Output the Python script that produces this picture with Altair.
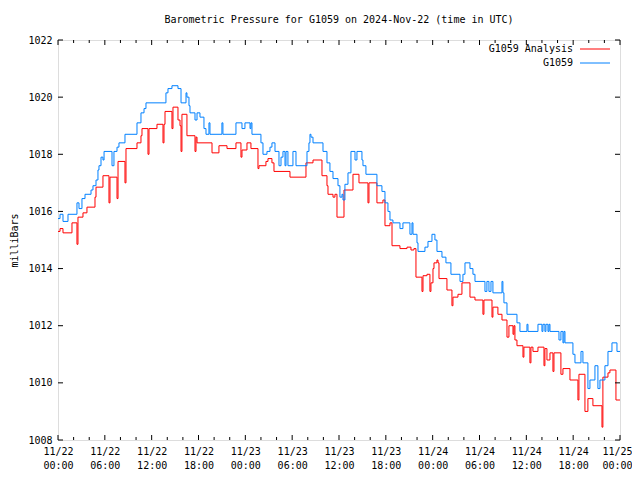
import json
import altair as alt
import pandas as pd

# ---- data (hours after 2024-11-22 00:00 UTC, pressure in millibars) ----
blue_h = [0, 0.26, 0.64, 1.28, 2.43, 2.69, 3.07, 3.46, 4.23, 4.48, 4.87, 5.12, 5.25, 5.51, 5.76, 5.9,
          6.92, 7.17, 7.56, 7.81, 8.58, 10.12, 10.63, 11.02, 11.27, 13.83, 14.09, 14.6, 15.37, 15.76,
          16.4, 16.52, 16.78, 16.91, 17.55, 17.81, 18.19, 18.7, 18.96, 19.34, 19.47, 21.0, 21.13, 22.8,
          23.57, 23.95, 24.6, 24.72, 24.85, 26.0, 26.26, 26.77, 27.16, 27.41, 27.8, 28.31, 28.57, 28.82,
          29.08, 29.21, 29.46, 30.1, 30.49, 31.9, 32.15, 32.28, 32.41, 32.67, 33.95, 34.46, 34.84, 35.23,
          35.87, 36.12, 36.38, 36.51, 36.76, 37.15, 37.53, 38.05, 38.3, 38.94, 39.07, 39.45, 40.86, 41.5,
          41.89, 42.27, 42.53, 42.91, 43.81, 44.19, 45.09, 45.35, 45.48, 45.99, 46.12, 47.01, 47.4, 47.91,
          48.29, 48.55, 49.19, 49.7, 50.34, 51.5, 51.88, 52.14, 52.78, 53.16, 53.42, 54.7, 54.95, 55.21,
          55.47, 55.72, 56.88, 57.0, 57.13, 57.52, 58.8, 59.18, 60.08, 60.21, 61.49, 62.0, 62.13, 62.38,
          62.51, 62.77, 62.9, 63.03, 64.18, 64.43, 64.69, 64.82, 64.95, 65.97, 66.23, 67.0, 67.25, 67.89,
          68.15, 68.79, 69.17, 69.43, 70.07, 70.46, 70.97, 71.61, 72.0]
blue_p = [1015.75, 1015.9, 1015.65, 1015.9, 1016.3, 1016.1, 1016.45, 1016.6, 1016.75, 1016.9, 1017.1,
          1017.45, 1017.6, 1017.9, 1017.8, 1018.1, 1017.6, 1018.1, 1018.25, 1018.4, 1018.7, 1019.1,
          1019.45, 1019.6, 1019.8, 1020.15, 1020.3, 1020.4, 1020.3, 1019.8, 1020.15, 1020.0, 1019.7,
          1019.45, 1019.2, 1019.45, 1019.3, 1018.9, 1018.7, 1019.1, 1018.7, 1019.1, 1018.7, 1019.1,
          1018.9, 1019.1, 1018.9, 1019.1, 1018.7, 1018.4, 1018.0, 1018.1, 1018.25, 1018.4, 1018.1,
          1017.6, 1017.9, 1018.1, 1017.6, 1018.1, 1017.6, 1018.1, 1017.6, 1018.1, 1018.4, 1018.7,
          1018.6, 1018.4, 1018.1, 1017.7, 1017.4, 1017.15, 1016.9, 1016.5, 1016.6, 1016.4, 1016.95,
          1017.35, 1018.1, 1017.8, 1018.1, 1017.8, 1017.6, 1017.3, 1016.9, 1016.7, 1016.3, 1016.0,
          1015.7, 1015.6, 1015.4, 1015.6, 1015.2, 1015.6, 1015.2, 1014.9, 1014.6, 1014.75, 1014.95,
          1015.2, 1015.0, 1014.6, 1014.4, 1014.2, 1013.8, 1013.55, 1013.8, 1014.2, 1014.0, 1013.8,
          1013.55, 1013.2, 1013.55, 1013.2, 1013.55, 1013.15, 1013.55, 1013.15, 1012.8, 1012.4,
          1012.1, 1011.8, 1012.05, 1011.8, 1012.05, 1011.8, 1012.05, 1011.8, 1012.05, 1011.8,
          1012.05, 1011.8, 1011.5, 1011.8, 1011.4, 1011.8, 1011.4, 1011.0, 1010.7, 1011.1, 1010.7,
          1009.8, 1010.1, 1010.6, 1009.8, 1010.1, 1010.6, 1011.1, 1011.4, 1011.1, 1011.1]

red_h = [0, 0.26, 0.64, 1.79, 2.43, 2.56, 3.2, 3.71, 4.74, 4.87, 5.76, 6.53, 6.66, 7.56, 7.69, 8.58,
         8.71, 10.12, 10.63, 10.76, 11.53, 11.66, 12.68, 13.45, 13.58, 13.71, 14.6, 14.73, 15.37, 15.63,
         15.76, 15.88, 16.52, 17.55, 17.68, 17.81, 19.73, 20.62, 21.65, 22.8, 23.44, 23.57, 24.21, 24.72,
         25.62, 25.75, 26.64, 26.9, 27.41, 27.67, 29.72, 31.77, 32.67, 33.82, 34.46, 34.59, 35.23, 35.48,
         35.74, 36.64, 37.79, 38.56, 39.71, 39.84, 40.86, 41.63, 41.89, 42.53, 42.79, 43.81, 44.71,
         45.22, 45.6, 45.86, 46.63, 46.76, 47.27, 47.65, 47.78, 48.04, 48.17, 48.55, 48.68, 48.81,
         49.83, 50.47, 50.6, 51.24, 51.75, 52.78, 53.42, 54.44, 54.57, 55.6, 55.72, 56.36, 56.88, 57.52,
         57.77, 58.29, 58.41, 58.54, 58.8, 59.57, 59.69, 60.46, 60.59, 60.85, 61.49, 62.26, 62.38,
         62.64, 63.03, 63.41, 63.54, 64.43, 64.69, 65.59, 66.61, 66.74, 67.51, 67.89, 68.53, 69.69,
         69.81, 70.46, 70.71, 71.48, 72.0]
red_p = [1015.3, 1015.4, 1015.25, 1015.6, 1014.85, 1015.8, 1015.95, 1016.15, 1016.5, 1016.85, 1017.25,
         1016.3, 1017.2, 1016.45, 1017.75, 1017.0, 1018.2, 1018.4, 1018.65, 1018.9, 1018.0, 1018.9,
         1019.05, 1018.4, 1019.05, 1019.5, 1018.9, 1019.65, 1019.2, 1019.0, 1018.1, 1019.4, 1018.65,
         1018.1, 1018.6, 1018.4, 1018.05, 1018.3, 1018.2, 1018.4, 1017.9, 1018.15, 1018.4, 1018.2,
         1017.5, 1017.6, 1017.75, 1017.85, 1017.7, 1017.4, 1017.2, 1017.7, 1017.8, 1017.25, 1016.9,
         1016.6, 1016.5, 1016.6, 1015.8, 1016.75, 1017.3, 1017.0, 1016.3, 1017.0, 1016.3, 1016.4,
         1015.5, 1015.6, 1014.8, 1014.7, 1014.75, 1014.65, 1014.7, 1013.7, 1013.2, 1013.75, 1013.8,
         1013.2, 1013.5, 1014.0, 1014.2, 1014.3, 1014.2, 1013.65, 1013.25, 1012.7, 1013.0, 1013.1,
         1013.5, 1013.0, 1012.9, 1012.4, 1012.9, 1012.3, 1012.65, 1012.4, 1012.2, 1011.6, 1012.0,
         1011.7, 1012.0, 1011.5, 1011.3, 1010.9, 1011.25, 1010.7, 1011.25, 1011.1, 1011.25, 1010.6,
         1011.2, 1010.8, 1011.05, 1010.4, 1011.05, 1010.3, 1010.5, 1010.1, 1009.4, 1010.3, 1009.0,
         1009.45, 1009.2, 1008.45, 1010.2, 1010.35, 1010.45, 1009.4, 1009.4]

x_major = list(range(0, 73, 6))
x_minor = [h for h in range(0, 73, 2) if h % 6 != 0]
y_major = list(range(1008, 1023, 2))
date_labels = ["11/22", "11/22", "11/22", "11/22", "11/23", "11/23", "11/23", "11/23",
               "11/24", "11/24", "11/24", "11/24", "11/25"]
time_labels = ["00:00", "06:00", "12:00", "18:00", "00:00", "06:00", "12:00", "18:00",
               "00:00", "06:00", "12:00", "18:00", "00:00"]
series_names = ["G1059 Analysis", "G1059"]
series_colors = ["#ff0000", "#0080ff"]
title_text = "Barometric Pressure for G1059 on 2024-Nov-22 (time in UTC)"

FONT = "DejaVu Sans Mono"
W, H = 562, 400

red_df = pd.DataFrame({"h": red_h, "p": red_p})
blue_df = pd.DataFrame({"h": blue_h, "p": blue_p})

label_expr = (f"[{json.dumps(date_labels)}[round(datum.value/6)], "
              f"{json.dumps(time_labels)}[round(datum.value/6)]]")

xscale = alt.Scale(domain=[0, 72], nice=False, zero=False)
yscale = alt.Scale(domain=[1008, 1022], nice=False, zero=False)

xaxis = alt.Axis(values=x_major, labelExpr=label_expr, ticks=False, domain=False, grid=False,
                 labelFont=FONT, labelFontSize=10, labelColor="black", labelPadding=6,
                 labelLineHeight=14, labelOverlap=False, labelFlush=False, title=None,
                 labelOffset={"condition": {"test": "datum.value >= 72", "value": -3}, "value": 0})
yaxis = alt.Axis(values=y_major, format="d", ticks=False, domain=False, grid=False,
                 labelFont=FONT, labelFontSize=10, labelColor="black", labelPadding=6,
                 title="milliBars", titleFont=FONT, titleFontSize=10, titleFontWeight="normal",
                 titleColor="black", titleX=-39, titleY=H / 2)

red_line = alt.Chart(red_df).mark_line(interpolate="step-after", color=series_colors[0],
                                       strokeWidth=1).encode(
    x=alt.X("h:Q", scale=xscale, axis=xaxis),
    y=alt.Y("p:Q", scale=yscale, axis=yaxis),
)
blue_line = alt.Chart(blue_df).mark_line(interpolate="step-after", color=series_colors[1],
                                         strokeWidth=1).encode(x="h:Q", y="p:Q")

xmaj = pd.DataFrame({"h": x_major})
xmin = pd.DataFrame({"h": x_minor})
ymaj = pd.DataFrame({"p": y_major})

ticks = []
for df, L in ((xmaj, 5), (xmin, 3)):
    ticks.append(alt.Chart(df).mark_rule(color="black", strokeWidth=1).encode(
        x="h:Q", y=alt.value(H), y2=alt.value(H - L)))
    ticks.append(alt.Chart(df).mark_rule(color="black", strokeWidth=1).encode(
        x="h:Q", y=alt.value(0), y2=alt.value(L)))
ticks.append(alt.Chart(ymaj).mark_rule(color="black", strokeWidth=1).encode(
    y="p:Q", x=alt.value(0), x2=alt.value(5)))
ticks.append(alt.Chart(ymaj).mark_rule(color="black", strokeWidth=1).encode(
    y="p:Q", x=alt.value(W), x2=alt.value(W - 5)))

legend_layers = []
for i, (name, col) in enumerate(zip(series_names, series_colors)):
    ldf = pd.DataFrame({"name": [name]})
    yy = 9 + 14 * i
    legend_layers.append(alt.Chart(ldf).mark_text(align="right", baseline="middle", font=FONT,
                                                  fontSize=10, color="black").encode(
        text="name:N", x=alt.value(515), y=alt.value(yy)))
    legend_layers.append(alt.Chart(ldf).mark_rule(color=col, strokeWidth=1).encode(
        x=alt.value(522), x2=alt.value(552), y=alt.value(yy)))

chart = alt.layer(red_line, blue_line, *ticks, *legend_layers).properties(
    width=W, height=H,
    title=alt.TitleParams(title_text, font=FONT, fontSize=10, fontWeight="normal", color="black",
                          anchor="middle", offset=10),
    padding={"left": 50, "top": 32, "right": 12, "bottom": 32},
    autosize=alt.AutoSizeParams(type="none"),
).configure_view(stroke="black", strokeWidth=1).configure(background="white")

chart.save("out.html", embed_options={"renderer": "svg", "actions": False})
